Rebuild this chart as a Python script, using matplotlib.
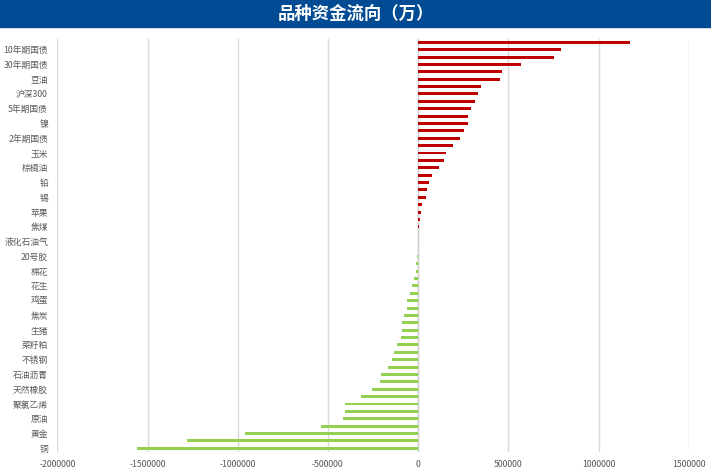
import numpy as np
import matplotlib.pyplot as plt

plt.rcParams['font.family'] = ['Noto Sans CJK SC', 'DejaVu Sans']

# labels shown on every second bar (bars 2, 4, ..., 56 from the top)
shown_labels = ['10年期国债', '30年期国债', '豆油', '沪深300', '5年期国债', '镍', '2年期国债',
                '玉米', '棕榈油', '铅', '锡', '苹果', '焦煤', '液化石油气', '20号胶', '棉花',
                '花生', '鸡蛋', '焦炭', '生猪', '菜籽粕', '不锈钢', '石油沥青', '天然橡胶',
                '聚氯乙烯', '原油', '黄金', '铜']

# fund flow per bar, top to bottom (万)
flows = [1177000, 793000, 754000, 568000, 463000, 452000, 348000, 330000,
         318000, 291000, 278000, 276000, 257000, 231000, 196000, 157000,
         141000, 118000, 76000, 63000, 50000, 42000, 24000, 16000,
         13000, 4000, 2000, 1000, -1500, -3700, -9300, -13000,
         -20400, -31500, -42600, -59300, -59300, -75900, -87000, -87000,
         -92600, -114800, -131500, -144400, -164800, -203700, -209300, -253700,
         -314800, -403700, -403700, -414800, -537000, -959300, -1281500, -1559300]

xticks = [-2000000, -1500000, -1000000, -500000, 0, 500000, 1000000, 1500000]

flows = np.array(flows)
y = np.arange(len(flows))
colors = np.where(flows >= 0, '#C00000', '#92D050')

fig = plt.figure(figsize=(7.11, 4.70), dpi=100)

# title banner
fig.patches.append(plt.Rectangle((0, 1 - 27 / 470), 1, 27 / 470, transform=fig.transFigure,
                                 color='#004B93', zorder=0))
fig.text(0.5, 1 - 13.5 / 470, '品种资金流向（万）', color='white', fontsize=12.5,
         fontweight='bold', ha='center', va='center')

ax = fig.add_axes([57.3 / 711, 1 - 452 / 470, (688.7 - 57.3) / 711, (452 - 38.6) / 470])
ax.barh(y, flows, height=0.4, color=colors, zorder=3)
ax.set_ylim(len(flows) - 0.5, -0.5)
ax.set_xlim(xticks[0], xticks[-1])

ax.set_xticks(xticks)
ax.set_xticklabels([str(t) for t in xticks])
ax.set_yticks(y[1::2])
ax.set_yticklabels(shown_labels)
ax.tick_params(axis='both', length=0, labelsize=6.3, colors='#595959')
ax.tick_params(axis='y', pad=6.7)
ax.tick_params(axis='x', pad=6)

ax.grid(axis='x', color='#D9D9D9', linewidth=1, zorder=0)
ax.axvline(0, color='#D0D0D0', linewidth=1, zorder=2)
for s in ax.spines.values():
    s.set_visible(False)

fig.savefig('out.png', dpi=100)
